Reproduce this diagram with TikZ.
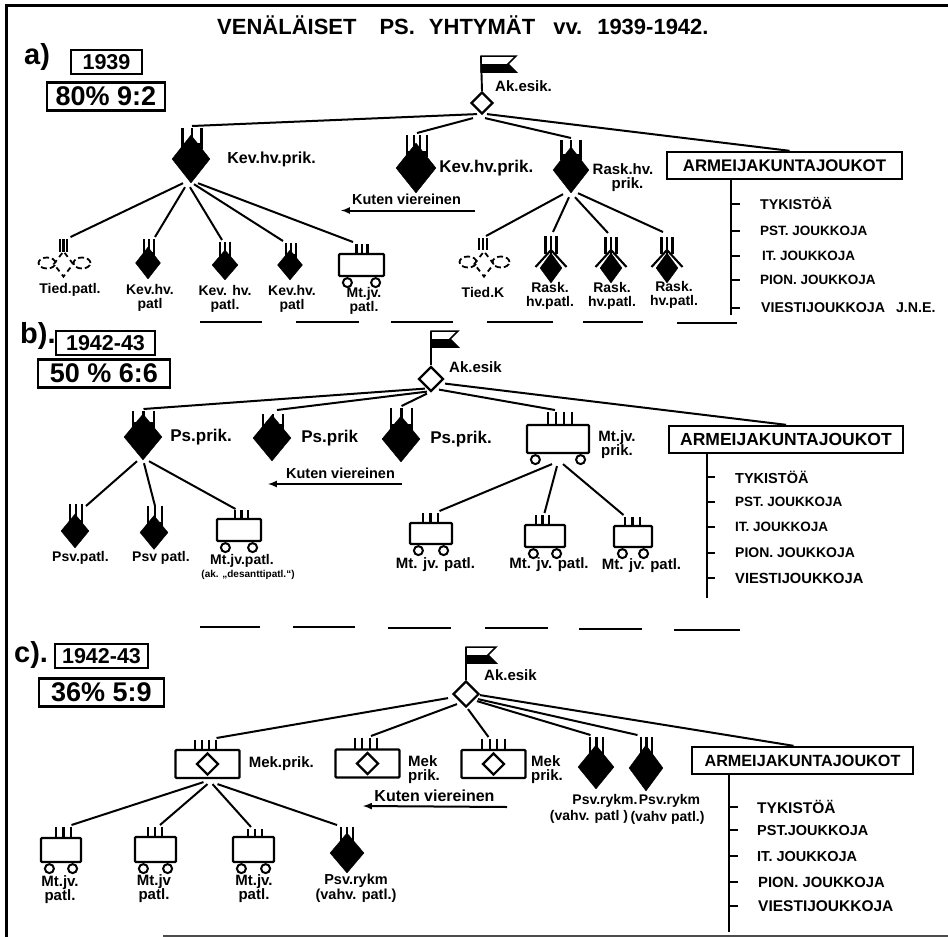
\documentclass[tikz,border=0pt]{standalone}
\usepackage{fontspec}
\setmainfont{Liberation Sans}
\usepackage{tikz}
\usepackage{xcolor}
\usetikzlibrary{positioning,shapes.geometric}

\tikzset{
  lab/.style={font=\fontsize{15}{14}\selectfont\bfseries,inner sep=0pt,align=center},
  labsm/.style={font=\fontsize{14}{14}\selectfont\bfseries,inner sep=0pt,align=center},
  labbig/.style={font=\fontsize{17}{14}\selectfont\bfseries,inner sep=0pt,align=center},
  kuten/.style={font=\fontsize{14.5}{14}\selectfont\bfseries,inner sep=0pt},
  troop/.style={font=\fontsize{#1}{#1}\selectfont\bfseries,inner sep=0pt,anchor=west},
  tag/.style={inner sep=0pt,font=\fontsize{29}{29}\selectfont\bfseries},
  yearbox/.style={draw,line width=2.2pt,font=\fontsize{21.5}{21.5}\selectfont\bfseries,inner sep=0pt,minimum height=24pt},
  ratiobox/.style={draw,line width=2.4pt,font=\fontsize{27}{27}\selectfont\bfseries,inner sep=0pt,minimum height=28pt},
  armbox/.style={draw,line width=2.4pt,fill=white,font=\fontsize{#1}{#1}\selectfont\bfseries,inner sep=0pt,minimum height=27pt},
  black/.style={diamond,fill=black,draw=black,inner sep=0pt,line width=0.4pt},
  hq/.style={diamond,fill=white,draw=black,inner sep=0pt,line width=2.2pt,minimum width=#1,minimum height=#1},
  signal/.style={diamond,dashed,draw=black,inner sep=0pt,line width=1.8pt,dash pattern=on 5pt off 4pt},
  loopy/.style={ellipse,dashed,draw=black,inner sep=0pt,line width=1.8pt,dash pattern=on 6pt off 3pt,minimum width=17pt,minimum height=11pt},
  tank/.style={rectangle,rounded corners=1pt,fill=white,draw=black,inner sep=0pt,line width=2.2pt},
  wheel/.style={circle,fill=white,draw=black,inner sep=0pt,line width=2pt,minimum size=9pt},
  tine/.style={line width=2.2pt},
  link/.style={line width=2pt},
  dashline/.style={line width=1.9pt},
  frame/.style={line width=2.6pt},
}

\newcommand{\tinesIII}[5]{%
  \coordinate (#1t) at (#2,#3-2);
  \draw[tine] (#2-#4,#3) -- (#2-#4,#5) (#2,#3) -- (#2,#5) (#2+#4,#3) -- (#2+#4,#5);}
\newcommand{\tinesIV}[5]{%
  \coordinate (#1t) at (#2,#3-2);
  \draw[tine] (#2-#4,#3) -- (#2-#4,#5) (#2-#4/3,#3) -- (#2-#4/3,#5) (#2+#4/3,#3) -- (#2+#4/3,#5) (#2+#4,#3) -- (#2+#4,#5);}
\newcommand{\hump}[3]{%
  \fill (#1-#2-1.1,#3) rectangle (#1+#2+1.1,#3+6);}
\newcommand{\tankpic}[5]{%
  \node[tank,minimum width=#4,minimum height=#5] (#1) at (#2,#3) {};
  \node[wheel] (#1l) at ([shift={(9.5,5.5)}]#1.south west) {};
  \node[wheel] (#1r) at ([shift={(-9.5,5.5)}]#1.south east) {};}
\newcommand{\mekpic}[3]{%
  \node[tank,minimum width=64pt,minimum height=28pt] (#1) at (#2,#3) {};
  \node[hq=22pt] (#1d) at (#2,#3) {};}
\newcommand{\raskpic}[3]{%
  \node[black,minimum width=22pt,minimum height=30pt] (#1) at (#2,#3) {};
  \draw[line width=2.1pt] (#2-15.5,#3-1) -- (#2,#3-18) -- (#2+15.5,#3-1);}
\newcommand{\flagpic}[4]{%
  \coordinate (#1f) at (#2,#3);
  \draw[line width=1.9pt] (#1f) -- (#1.north);
  \draw[line width=1.5pt,fill=white] (#2,#3) -- (#2+#4,#3) -- (#2+#4-8,#3+8) -- (#2+#4,#3+16) -- (#2,#3+16) -- cycle;
  \fill (#2,#3+8) -- (#2+#4-8,#3+8) -- (#2+#4,#3+16) -- (#2,#3+16) -- cycle;}

\begin{document}
\begin{tikzpicture}[x=1pt,y=-1pt,node distance=15pt]
  \useasboundingbox (0,0) rectangle (948,937);
  \draw[frame] (948,5.5) -- (6.5,5.5) -- (6.5,937);
  \draw[line width=1.3pt,black!70] (163,936) -- (948,936);
  \node[inner sep=0pt,anchor=west,font=\fontsize{22}{22}\selectfont\bfseries] (title) at (217,25)
    {VENÄLÄISET\hspace{23pt}PS.\hspace{14pt}YHTYMÄT\hspace{18pt}vv.\hspace{15pt}1939-1942.};

  % a)
  \node[tag,anchor=west] (tagA) at (24,57) {a)};
  \node[yearbox,minimum width=71pt] (yearA) at (106.5,62) {1939};
  \node[ratiobox,minimum width=118pt] (ratioA) at (106,96.5) {80\% 9:2};
  \node[hq=22pt] (akA) at (482,103) {};
  \flagpic{akA}{481}{56}{35}
  \node[lab,anchor=west] (akAlab) at (495,86) {Ak.esik.};

  \node[black,minimum width=38pt,minimum height=48pt] (kevA) at (191,159) {};
  \tinesIII{kevA}{192}{128}{9.5}{145}
  \hump{192}{9.5}{143}
  \node[lab,font=\fontsize{16}{14}\selectfont\bfseries] (kevAlab) [right = 17pt of kevA] {Kev.hv.prik.};
  \node[black,minimum width=40pt,minimum height=50pt] (kevB) at (416,168) {};
  \tinesIV{kevB}{417}{135}{10}{153}
  \hump{417}{10}{151}
  \node[labbig] (kevBlab) [right = 3pt of kevB] {Kev.hv.prik.};
  \node[black,minimum width=36pt,minimum height=46pt] (raskA) at (571,170) {};
  \tinesIII{raskA}{571}{140}{9.5}{156}
  \hump{571}{9.5}{154}
  \node[lab] (raskAlab) at (623,178) {Rask.hv.\\\hspace{9pt}prik.};
  \node[armbox=16.8,minimum width=235pt] (armA) at (784.5,165.5) {ARMEIJAKUNTAJOUKOT};

  \draw[link] ([shift={(-5,-1)}]akA.south) edge (kevAt);
  \draw[link] ([shift={(-9,3)}]akA.south) edge (kevBt);
  \draw[link] ([shift={(3,3)}]akA.south) edge (raskAt);
  \draw[link] ([shift={(5,-1)}]akA.south) edge ([xshift=5pt]armA.north);

  \node[kuten] (kutA) at (406.5,199) {Kuten viereinen};
  \coordinate (kutAs) at (475,210.5);
  \coordinate (kutAe) at (341,210.5);
  \draw[link,-latex] (kutAs) -- (kutAe);

  \node[signal,minimum width=20pt,minimum height=26pt] (tiedA) at (63.5,264) {};
  \node[loopy] (tiedAl) at (47,263) {};
  \node[loopy] (tiedAr) at (82,263) {};
  \tinesIII{tiedA}{63.5}{239}{3.5}{252}
  \node[labsm] (tiedAlab) at (70,290) {Tied.patl.};
  \node[black,minimum width=25pt,minimum height=32pt] (kevC) at (148,263) {};
  \tinesIII{kevC}{149}{239}{5}{254}
  \hump{149}{5}{252}
  \node[labsm] (kevClab) at (150,298) {Kev.hv.\\patl};
  \node[black,minimum width=26pt,minimum height=30pt] (kevD) at (225,265) {};
  \tinesIII{kevD}{225}{242}{5}{256}
  \hump{225}{5}{254}
  \node[labsm] (kevDlab) at (225,298.5) {Kev. hv.\\patl.};
  \node[black,minimum width=25pt,minimum height=30pt] (kevE) at (290,265) {};
  \tinesIII{kevE}{291}{243}{5}{256}
  \hump{291}{5}{254}
  \node[labsm] (kevElab) at (292,299) {Kev.hv.\\patl};
  \tankpic{mtA}{361.5}{265}{45pt}{22pt}
  \tinesIII{mtA}{362}{244}{5.5}{254}
  \node[labsm] (mtAlab) at (364,301) {Mt.jv.\\patl.};

  \node[signal,minimum width=20pt,minimum height=26pt] (tiedB) at (484,264) {};
  \node[loopy] (tiedBl) at (468,262) {};
  \node[loopy] (tiedBr) at (501,262) {};
  \tinesIII{tiedB}{483}{238}{4}{250}
  \node[labsm] (tiedBlab) at (483,292) {Tied.K};
  \raskpic{raskB}{551}{268}
  \tinesIII{raskB}{551}{236}{5.5}{254}
  \node[labsm] (raskBlab) at (550,296) {Rask.\\hv.patl.};
  \raskpic{raskC}{611}{268}
  \tinesIII{raskC}{611}{237}{5.5}{254}
  \node[labsm] (raskClab) at (612,296) {Rask.\\hv.patl.};
  \raskpic{raskD}{667}{268}
  \tinesIII{raskD}{667}{237}{5.5}{254}
  \node[labsm] (raskDlab) at (674,295) {Rask.\\hv.patl.};

  \draw[link] ([shift={(-8,0)}]kevA.south) edge ([xshift=7pt]tiedAt);
  \draw[link] ([shift={(-6,4)}]kevA.south) edge ([xshift=6pt]kevCt);
  \draw[link] ([shift={(-1,4)}]kevA.south) edge ([xshift=-3pt]kevDt);
  \draw[link] ([shift={(3,1)}]kevA.south) edge ([xshift=-8pt]kevEt);
  \draw[link] ([shift={(7,0)}]kevA.south) edge ([xshift=-9pt]mtAt);
  \draw[link] ([shift={(-8,1)}]raskA.south) edge ([xshift=3pt]tiedBt);
  \draw[link] ([shift={(-2,4)}]raskA.south) edge ([shift={(2,-2)}]raskBt);
  \draw[link] ([shift={(4,4)}]raskA.south) edge ([shift={(-3,-2)}]raskCt);
  \draw[link] ([shift={(7,0)}]raskA.south) edge ([shift={(-4,-3)}]raskDt);

  \coordinate (trunkA) at (731,315);
  \node[troop=14.2] (tyA) at (760,204) {TYKISTÖÄ};
  \node[troop=13.5] (pstA) at (760,231) {PST. JOUKKOJA};
  \node[troop=13.5] (itA) at (762,256) {IT. JOUKKOJA};
  \node[troop=13.5] (pionA) at (760,280) {PION. JOUKKOJA};
  \node[troop=14.2] (viesA) at (761,308) {VIESTIJOUKKOJA\hspace{11pt}J.N.E.};
  \draw[link] (armA.south -| trunkA) -- (trunkA);
  \draw[link] (trunkA |- tyA.west) -- ++(9,0);
  \draw[link] (trunkA |- pstA.west) -- ++(9,0);
  \draw[link] (trunkA |- itA.west) -- ++(9,0);
  \draw[link] (trunkA |- pionA.west) -- ++(9,0);
  \draw[link] (trunkA |- viesA.west) -- ++(9,0);

  \draw[dashline] (200,322) -- (262,322) (296,322) -- (359,322) (391,322) -- (453,322)
    (487,322) -- (553,322) (583,322) -- (643,322) (677,323) -- (737,323);

  % b)
  \node[tag,anchor=west] (tagB) at (20,336) {b).};
  \node[yearbox,minimum width=99pt] (yearB) at (105.5,343) {1942-43};
  \node[ratiobox,minimum width=132pt] (ratioB) at (104,373.5) {50 \% 6:6};
  \node[hq=25pt] (akB) at (431,379) {};
  \flagpic{akB}{431}{331}{27}
  \node[lab] (akBlab) [anchor=west] at (449,367) {Ak.esik};

  \node[black,minimum width=38pt,minimum height=46pt] (psA) at (143,437) {};
  \tinesIII{psA}{143.5}{411}{10.5}{424}
  \hump{143.5}{10.5}{422}
  \node[labbig] (psAlab) [right = 8pt of psA] {Ps.prik.};
  \node[black,minimum width=38pt,minimum height=46pt] (psB) at (272,438) {};
  \tinesIII{psB}{273}{414}{10}{426}
  \hump{273}{10}{424}
  \node[labbig] (psBlab) [right = 10pt of psB] {Ps.prik};
  \node[black,minimum width=38pt,minimum height=46pt] (psC) at (401,439) {};
  \tinesIII{psC}{401.5}{408}{10.5}{426}
  \hump{401.5}{10.5}{424}
  \node[labbig] (psClab) [right = 10pt of psC] {Ps.prik.};
  \tankpic{mtB}{558}{439}{62pt}{28pt}
  \tinesIV{mtB}{560}{412}{12}{425}
  \node[lab] (mtBlab) at (617,445) {Mt.jv.\\prik.};
  \node[armbox=17.5,minimum width=234pt] (armB) at (786,439.5) {ARMEIJAKUNTAJOUKOT};

  \draw[link] ([shift={(-6,-4)}]akB.south) edge (psAt);
  \draw[link] ([shift={(-4,-1)}]akB.south) edge ([shift={(4,-2)}]psBt);
  \draw[link] ([shift={(-4,1)}]akB.south) edge (psCt);
  \draw[link] ([shift={(8,-3)}]akB.south) edge ([xshift=-5pt]mtBt);
  \draw[link] ([shift={(14,-9)}]akB.south) edge (armB.north);

  \node[kuten] (kutB) at (340.5,473) {Kuten viereinen};
  \coordinate (kutBs) at (402,484);
  \coordinate (kutBe) at (268,484);
  \draw[link,-latex] (kutBs) -- (kutBe);

  \node[black,minimum width=28pt,minimum height=34pt] (psvA) at (75,531) {};
  \tinesIII{psvA}{76}{504}{6}{522}
  \hump{76}{6}{520}
  \node[labsm] (psvAlab) at (80.5,558) {Psv.patl.};
  \node[black,minimum width=28pt,minimum height=34pt] (psvB) at (154,532.5) {};
  \tinesIII{psvB}{155}{506}{7}{524}
  \hump{155}{7}{522}
  \node[labsm] (psvBlab) at (161,558) {Psv patl.};
  \tankpic{mtC}{239}{530}{44pt}{22pt}
  \tinesIII{mtC}{241.5}{510}{6.5}{519}
  \node[labsm] (mtClab) at (242,561) {Mt.jv.patl.};
  \node[inner sep=0pt,font=\fontsize{10}{10}\selectfont\bfseries] (mtCsub) at (248,575) {(ak. „desanttipatl.“)};

  \draw[link] ([shift={(-6,1)}]psA.south) edge ([shift={(10,4)}]psvAt);
  \draw[link] ([shift={(1,3)}]psA.south) edge ([yshift=-2pt]psvBt);
  \draw[link] ([shift={(6,1)}]psA.south) edge ([shift={(-6,1)}]mtCt);

  \tankpic{mtD}{431}{533.5}{42pt}{21pt}
  \tinesIII{mtD}{430.5}{513}{7.5}{523}
  \node[lab] (mtDlab) at (435.5,565) {Mt. jv. patl.};
  \tankpic{mtE}{545}{536}{40pt}{22pt}
  \tinesIII{mtE}{542.5}{515}{6.5}{525}
  \node[lab] (mtElab) at (549,565) {Mt. jv. patl.};
  \tankpic{mtF}{633}{536.5}{38pt}{21pt}
  \tinesIII{mtF}{632.5}{517}{7.5}{526}
  \node[lab] (mtFlab) at (641.5,566) {Mt. jv. patl.};

  \draw[link] ([shift={(-6,10)}]mtB.south) edge ([xshift=9pt]mtDt);
  \draw[link] ([shift={(-1,12)}]mtB.south) edge ([xshift=2pt]mtEt);
  \draw[link] ([shift={(5,10)}]mtB.south) edge ([xshift=-9pt]mtFt);

  \coordinate (trunkB) at (707,598);
  \node[troop=14.5] (tyB) at (735,477) {TYKISTÖÄ};
  \node[troop=13.5] (pstB) at (735,502) {PST. JOUKKOJA};
  \node[troop=13.5] (itB) at (735,527) {IT. JOUKKOJA};
  \node[troop=14] (pionB) at (735,553) {PION. JOUKKOJA};
  \node[troop=14.7] (viesB) at (735,578) {VIESTIJOUKKOJA};
  \draw[link] (armB.south -| trunkB) -- (trunkB);
  \draw[link] (trunkB |- tyB.west) -- ++(8,0);
  \draw[link] (trunkB |- pstB.west) -- ++(8,0);
  \draw[link] (trunkB |- itB.west) -- ++(8,0);
  \draw[link] (trunkB |- pionB.west) -- ++(8,0);
  \draw[link] (trunkB |- viesB.west) -- ++(8,0);

  \draw[dashline] (200,627) -- (260,627) (293,627) -- (355,627) (388,628) -- (451,628)
    (485,628) -- (548,628) (579,629) -- (642,629) (674,630) -- (740,630);

  % c)
  \node[tag,anchor=west] (tagC) at (14,655) {c).};
  \node[yearbox,minimum width=93pt] (yearC) at (101.5,656) {1942-43};
  \node[ratiobox,minimum width=125pt] (ratioC) at (101.5,692.5) {36\% 5:9};
  \node[hq=26pt] (akC) at (466,694) {};
  \flagpic{akC}{466}{647}{30}
  \node[lab] (akClab) [anchor=west] at (484,675) {Ak.esik};

  \mekpic{mekA}{207.5}{764}
  \tinesIV{mekA}{205.5}{740}{10.5}{750}
  \node[lab] (mekAlab) [right = 8pt of mekA] {Mek.prik.};
  \mekpic{mekB}{367.5}{763.5}
  \tinesIV{mekB}{366}{738}{11}{749}
  \node[lab,align=left,anchor=west] (mekBlab) at (408,770) {Mek\\prik.};
  \mekpic{mekC}{493.5}{764}
  \tinesIV{mekC}{493.5}{739}{11.5}{749}
  \node[lab,align=left,anchor=west] (mekClab) at (531,770) {Mek\\prik.};
  \node[black,minimum width=36pt,minimum height=44pt] (psvE) at (596,767) {};
  \tinesIII{psvE}{596.5}{737}{6.5}{754}
  \hump{596.5}{6.5}{752}
  \node[labsm] (psvElab) at (605,801) {Psv.rykm.};
  \node[labsm] (psvEsub) at (589,817) {(vahv. patl )};
  \node[black,minimum width=34pt,minimum height=46pt] (psvF) at (646,768) {};
  \tinesIII{psvF}{646.5}{737}{5.5}{755}
  \hump{646.5}{5.5}{753}
  \node[labsm] (psvFlab) at (669.5,801) {Psv.rykm};
  \node[labsm] (psvFsub) at (667.5,818) {(vahv patl.)};
  \node[armbox=16.2,minimum width=221pt] (armC) at (802.5,760.5) {ARMEIJAKUNTAJOUKOT};

  \draw[link] ([shift={(-18,-10)}]akC.south) edge ([xshift=11pt]mekAt);
  \draw[link] ([shift={(-9,-4)}]akC.south) edge ([xshift=5pt]mekBt);
  \draw[link] ([shift={(2,1)}]akC.south) edge ([xshift=-5pt]mekCt);
  \draw[link] ([shift={(11,-7)}]akC.south) edge ([xshift=-6pt]psvEt);
  \draw[link] ([shift={(12,-9)}]akC.south) edge ([xshift=-9pt]psvFt);
  \draw[link] ([shift={(14,-13)}]akC.south) edge ([xshift=-9pt]armC.north);

  \node[kuten,font=\fontsize{16}{14}\selectfont\bfseries] (kutC) at (434.5,796) {Kuten viereinen};
  \coordinate (kutCs) at (507,807);
  \coordinate (kutCe) at (363,806);
  \draw[link,-latex] (kutCs) -- (kutCe);

  \tankpic{mtG}{61}{850}{40pt}{24pt}
  \tinesIII{mtG}{63.5}{827}{7.5}{838}
  \node[lab] (mtGlab) at (60,890) {Mt.jv.\\patl.};
  \tankpic{mtH}{155.5}{849.5}{41pt}{25pt}
  \tinesIII{mtH}{155}{827}{7}{837}
  \node[lab] (mtHlab) at (154,889) {Mt.jv\\patl.};
  \tankpic{mtI}{253.5}{849.5}{41pt}{25pt}
  \tinesIII{mtI}{255}{829}{7}{837}
  \node[lab] (mtIlab) at (254,889) {Mt.jv.\\patl.};
  \node[black,minimum width=34pt,minimum height=40pt] (psvG) at (347,853) {};
  \tinesIII{psvG}{347}{827}{6}{842}
  \hump{347}{6}{840}
  \node[lab,font=\fontsize{14.5}{15}\selectfont\bfseries] (psvGlab) at (356,888.5) {Psv.rykm\\(vahv. patl.)};

  \draw[link] ([shift={(-4,3)}]mekA.south) edge ([xshift=8pt]mtGt);
  \draw[link] ([shift={(0,5)}]mekA.south) edge ([xshift=5pt]mtHt);
  \draw[link] ([shift={(5,5)}]mekA.south) edge ([xshift=-4pt]mtIt);
  \draw[link] ([shift={(10,5)}]mekA.south) edge ([xshift=-10pt]psvGt);

  \coordinate (trunkC) at (729,932);
  \node[troop=15.5] (tyC) at (757,807) {TYKISTÖÄ};
  \node[troop=14.5] (pstC) at (757,830) {PST.JOUKKOJA};
  \node[troop=14.5] (itC) at (757,856) {IT. JOUKKOJA};
  \node[troop=14.8] (pionC) at (758,882) {PION. JOUKKOJA};
  \node[troop=15.5] (viesC) at (758,906) {VIESTIJOUKKOJA};
  \draw[link] (armC.south -| trunkC) -- (trunkC);
  \draw[link] (trunkC |- tyC.west) -- ++(9,0);
  \draw[link] (trunkC |- pstC.west) -- ++(9,0);
  \draw[link] (trunkC |- itC.west) -- ++(9,0);
  \draw[link] (trunkC |- pionC.west) -- ++(9,0);
  \draw[link] (trunkC |- viesC.west) -- ++(9,0);
\end{tikzpicture}
\end{document}
